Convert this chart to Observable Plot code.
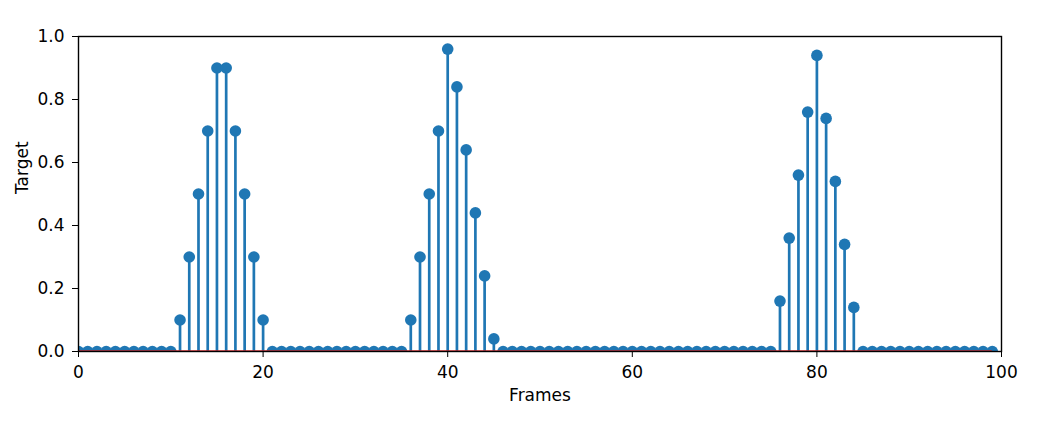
<!DOCTYPE html>
<html>
<head>
<meta charset="utf-8">
<script src="https://cdn.jsdelivr.net/npm/d3@7"></script>
<script src="https://cdn.jsdelivr.net/npm/@observablehq/plot@0.6"></script>
<style>
  html, body { margin: 0; padding: 0; background: #fff; }
</style>
</head>
<body>
<div id="chart"></div>
<script>
// Target value for each frame (frames 0..99)
const values = [
  0, 0, 0, 0, 0, 0, 0, 0, 0, 0, 0,
  0.1, 0.3, 0.5, 0.7, 0.9, 0.9, 0.7, 0.5, 0.3, 0.1,
  0, 0, 0, 0, 0, 0, 0, 0, 0, 0, 0, 0, 0, 0, 0,
  0.1, 0.3, 0.5, 0.7, 0.96, 0.84, 0.64, 0.44, 0.24, 0.04,
  0, 0, 0, 0, 0, 0, 0, 0, 0, 0, 0, 0, 0, 0, 0,
  0, 0, 0, 0, 0, 0, 0, 0, 0, 0, 0, 0, 0, 0, 0,
  0.16, 0.36, 0.56, 0.76, 0.94, 0.74, 0.54, 0.34, 0.14,
  0, 0, 0, 0, 0, 0, 0, 0, 0, 0, 0, 0, 0, 0, 0
];
const frames = values.map((_, i) => i);
const xTicks = [0, 20, 40, 60, 80, 100];
const yTicks = [0, 0.2, 0.4, 0.6, 0.8, 1.0];
const xLabel = "Frames";
const yLabel = "Target";

const data = frames.map((f, i) => ({frame: f, target: values[i]}));
const blue = "#1f77b4";

const chart = Plot.plot({
  width: 1039,
  height: 422,
  marginLeft: 78,
  marginRight: 38,
  marginTop: 36,
  marginBottom: 71,
  style: {fontFamily: "'DejaVu Sans', sans-serif", fontSize: "17px", background: "#fff", color: "#000"},
  x: {domain: [0, 100]},
  y: {domain: [0, 1]},
  marks: [
    Plot.ruleX(data, {x: "frame", y1: 0, y2: "target", stroke: blue, strokeWidth: 2.7, clip: true}),
    Plot.dot(data, {x: "frame", y: "target", r: 5.8, fill: blue, stroke: "none", clip: true}),
    Plot.ruleY([0], {x1: d3.min(frames), x2: d3.max(frames), stroke: "#d62728", strokeWidth: 2.7, clip: true}),
    Plot.frame({stroke: "#000", strokeWidth: 1.4}),
    Plot.axisX({ticks: xTicks, tickSize: 6, tickPadding: 8, label: null, tickFormat: d3.format("d"), stroke: "#000", fill: "#000"}),
    Plot.axisY({ticks: yTicks, tickSize: 6, tickPadding: 8, label: null, tickFormat: d3.format(".1f"), stroke: "#000", fill: "#000"}),
    Plot.text([xLabel], {frameAnchor: "bottom", dy: 49, text: d => d, fill: "#000", fontSize: 17}),
    Plot.text([yLabel], {frameAnchor: "left", dx: -56, rotate: -90, text: d => d, fill: "#000", fontSize: 17})
  ]
});
document.getElementById("chart").appendChild(chart);
</script>
</body>
</html>
